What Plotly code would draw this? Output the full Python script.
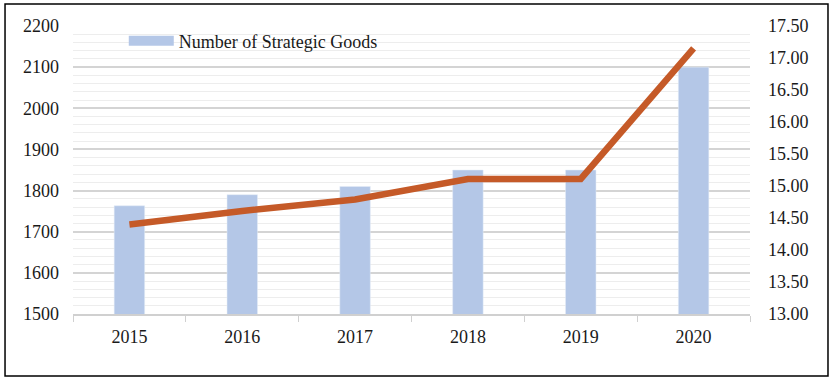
import plotly.graph_objects as go

years = ["2015", "2016", "2017", "2018", "2019", "2020"]
goods = [1763, 1790, 1810, 1850, 1850, 2100]
line_vals = [14.40, 14.61, 14.79, 15.11, 15.11, 17.15]

BAR = "#B4C7E7"
LINE = "#C55A28"
FONT = "Liberation Serif"

fig = go.Figure()
fig.add_trace(go.Bar(x=years, y=goods, marker_color=BAR, width=0.27,
                     name="Number of Strategic Goods", showlegend=False))
fig.add_trace(go.Scatter(x=[None], y=[None], mode="lines",
                         line=dict(color=BAR, width=10),
                         name="Number of Strategic Goods", showlegend=True))
fig.add_trace(go.Scatter(x=years, y=line_vals, mode="lines", yaxis="y2",
                         line=dict(color=LINE, width=6.5), showlegend=False))

fig.update_layout(
    width=834, height=383,
    margin=dict(l=73, r=84, t=26, b=69),
    paper_bgcolor="white", plot_bgcolor="white",
    font=dict(family=FONT, size=18, color="#1a1a1a"),
    xaxis=dict(showline=True, linecolor="#D0D0D0", linewidth=1.5,
               ticks="outside", tickson="boundaries", ticklen=6, tickcolor="#D0D0D0",
               showgrid=False, ticklabelstandoff=6, automargin=False),
    yaxis=dict(range=[1500, 2200], dtick=100, showgrid=True, gridcolor="#D4D4D4",
               gridwidth=1.5, zeroline=False, ticks="", ticklabelstandoff=13,
               automargin=False,
               minor=dict(dtick=20, showgrid=True, gridcolor="#EDEDED", gridwidth=1)),
    yaxis2=dict(range=[13, 17.5], dtick=0.5, tickformat=".2f", overlaying="y",
                side="right", showgrid=False, zeroline=False, ticklabelstandoff=17,
                automargin=False),
    legend=dict(x=0.075, y=1.012, xanchor="left", yanchor="top", itemwidth=45,
                bgcolor="rgba(0,0,0,0)", font=dict(size=18)),
    bargap=0.7,
    shapes=[dict(type="rect", xref="paper", yref="paper",
                 x0=-0.1004, x1=1.1152, y0=-0.2153, y1=1.0764,
                 line=dict(color="black", width=1.5))],
)

fig.write_html("out.html", config={"displayModeBar": False},
               post_script="document.body.style.margin='0px';")
